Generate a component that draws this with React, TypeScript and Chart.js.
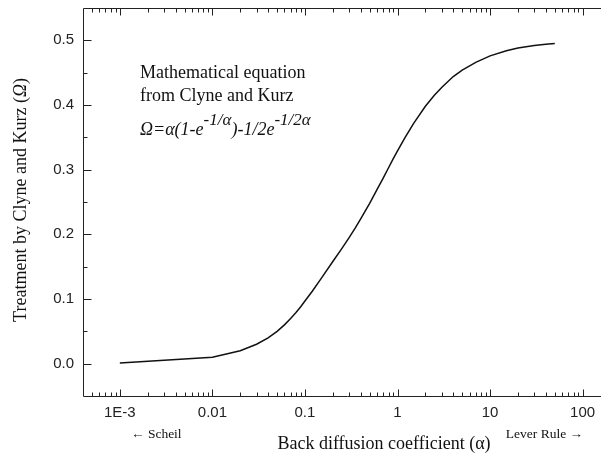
import React, { useEffect, useRef } from "react";
import { Chart, registerables } from "chart.js";

Chart.register(...registerables);

// Back diffusion coefficient α (x) and Clyne–Kurz treatment Ω (y)
const alphaValues = [
  0.001, 0.01, 0.02, 0.03, 0.04, 0.05, 0.06, 0.07, 0.08, 0.09, 0.1, 0.12, 0.15,
  0.2, 0.25, 0.3, 0.35, 0.4, 0.5, 0.6, 0.7, 0.8, 0.9, 1, 1.2, 1.5, 2, 2.5, 3, 4,
  5, 7, 10, 15, 20, 30, 40, 50,
];
const omegaValues = [
  0.001, 0.01, 0.02, 0.03, 0.04, 0.05, 0.06, 0.07, 0.079, 0.088, 0.097, 0.112,
  0.132, 0.158, 0.178, 0.195, 0.21, 0.224, 0.248, 0.269, 0.287, 0.303, 0.317,
  0.329, 0.349, 0.372, 0.398, 0.415, 0.427, 0.444, 0.454, 0.466, 0.476, 0.484,
  0.488, 0.492, 0.494, 0.495,
];

const xDecades = [0.001, 0.01, 0.1, 1, 10, 100];
const xDecadeLabels = ["1E-3", "0.01", "0.1", "1", "10", "100"];

const X_MIN = 4e-4;
const X_MAX = 200;
const Y_MIN = -0.05;
const Y_MAX = 0.55;

const SERIF = "'Liberation Serif', 'Times New Roman', serif";
const SANS = "'Liberation Sans', Arial, sans-serif";
const INK = "#222";

type Run = { text: string; font: string; dy?: number };

function drawRuns(ctx: CanvasRenderingContext2D, runs: Run[], x: number, y: number) {
  let cx = x;
  for (const r of runs) {
    ctx.font = r.font;
    ctx.fillText(r.text, cx, y + (r.dy || 0));
    cx += ctx.measureText(r.text).width;
  }
  return cx - x;
}

function measureRuns(ctx: CanvasRenderingContext2D, runs: Run[]) {
  let w = 0;
  for (const r of runs) {
    ctx.font = r.font;
    w += ctx.measureText(r.text).width;
  }
  return w;
}

const framePlugin = {
  id: "frameAndNotes",
  afterDraw(chart: any) {
    const { ctx, chartArea } = chart;
    const { left, right, top, bottom } = chartArea;
    const xs = chart.scales.x;
    const ys = chart.scales.y;
    ctx.save();
    ctx.strokeStyle = INK;
    ctx.lineWidth = 1;

    // frame
    const L = Math.round(left) + 0.5;
    const T = Math.round(top) + 0.5;
    const B = Math.round(bottom) + 0.5;
    const R = Math.round(right) + 0.5;
    ctx.beginPath();
    ctx.moveTo(L, T);
    ctx.lineTo(L, B);
    ctx.moveTo(L, T);
    ctx.lineTo(R, T);
    ctx.moveTo(L, B);
    ctx.lineTo(R, B);
    ctx.moveTo(R, T);
    ctx.lineTo(R, B);
    ctx.stroke();

    // inward ticks on x (bottom and top)
    ctx.beginPath();
    for (const t of xs.ticks) {
      const v = t.value;
      const e = Math.log10(v);
      const major = Math.abs(e - Math.round(e)) < 1e-9;
      const len = major ? 7 : 4;
      const px = Math.round(xs.getPixelForValue(v)) + 0.5;
      if (px <= L + 0.1) continue;
      ctx.moveTo(px, B);
      ctx.lineTo(px, B - len);
      ctx.moveTo(px, T);
      ctx.lineTo(px, T + len);
    }
    // inward ticks on y (left)
    for (const t of ys.ticks) {
      const v = t.value;
      const major = Math.abs(v * 10 - Math.round(v * 10)) < 1e-6;
      const len = major ? 8 : 4;
      const py = Math.round(ys.getPixelForValue(v)) + 0.5;
      if (py <= T + 0.1 || py >= B - 0.1) continue;
      ctx.moveTo(L, py);
      ctx.lineTo(L + len, py);
    }
    ctx.stroke();

    ctx.fillStyle = "#111";
    ctx.textBaseline = "alphabetic";
    ctx.textAlign = "left";

    // equation note
    ctx.font = `18px ${SERIF}`;
    ctx.fillText("Mathematical equation", 140, 78);
    ctx.fillText("from Clyne and Kurz", 140, 101);
    const it = `italic 18px ${SERIF}`;
    const itSup = `italic 17px ${SERIF}`;
    drawRuns(
      ctx,
      [
        { text: "Ω=α(1-e", font: it },
        { text: "-1/α", font: itSup, dy: -10 },
        { text: ")-1/2e", font: it },
        { text: "-1/2α", font: itSup, dy: -10 },
      ],
      140,
      135
    );

    // bottom annotations
    ctx.font = `13.5px ${SERIF}`;
    ctx.fillText("← Scheil", 131, 438);
    ctx.textAlign = "right";
    ctx.fillText("Lever Rule →", 583, 438);
    ctx.textAlign = "left";

    // x title
    const xRuns: Run[] = [{ text: "Back diffusion coefficient (α)", font: `18px ${SERIF}` }];
    const xw = measureRuns(ctx, xRuns);
    drawRuns(ctx, xRuns, 384 - xw / 2, 449);

    // y title
    const yRuns: Run[] = [
      { text: "Treatment by Clyne and Kurz (", font: `18px ${SERIF}` },
      { text: "Ω", font: `italic 18px ${SERIF}` },
      { text: ")", font: `18px ${SERIF}` },
    ];
    const yw = measureRuns(ctx, yRuns);
    ctx.translate(26, 200);
    ctx.rotate(-Math.PI / 2);
    drawRuns(ctx, yRuns, -yw / 2, 0);

    ctx.restore();
  },
};

export default function App() {
  const canvasRef = useRef<HTMLCanvasElement | null>(null);

  useEffect(() => {
    const canvas = canvasRef.current;
    if (!canvas) return;
    const chart = new Chart(canvas, {
      type: "line",
      data: {
        datasets: [
          {
            data: alphaValues.map((a, i) => ({ x: a, y: omegaValues[i] })),
            borderColor: "#111",
            borderWidth: 1.5,
            pointRadius: 0,
            tension: 0,
            fill: false,
          },
        ],
      },
      options: {
        responsive: false,
        animation: false,
        events: [],
        layout: { padding: { left: 0, top: 8, right: 29.5, bottom: 0 } },
        plugins: {
          legend: { display: false },
          tooltip: { enabled: false },
          title: { display: false },
        },
        scales: {
          x: {
            type: "logarithmic",
            min: X_MIN,
            max: X_MAX,
            grid: { display: false, drawTicks: false },
            border: { display: false },
            afterFit: (s: any) => {
              s.height = 57;
              s.paddingLeft = 0;
              s.paddingRight = 0;
            },
            afterBuildTicks: (s: any) => {
              const ticks: { value: number }[] = [];
              for (let e = -4; e <= 2; e++) {
                const d = Math.pow(10, e);
                for (let m = 1; m <= 9; m++) {
                  const v = parseFloat((m * d).toPrecision(6));
                  if (v >= X_MIN && v <= X_MAX) ticks.push({ value: v });
                }
              }
              s.ticks = ticks;
            },
            ticks: {
              autoSkip: false,
              maxRotation: 0,
              padding: 8,
              color: INK,
              font: { family: SANS, size: 15 },
              callback: (v: any) => {
                const idx = xDecades.findIndex((d) => Math.abs(d - v) / d < 1e-6);
                return idx >= 0 ? xDecadeLabels[idx] : "";
              },
            },
          },
          y: {
            type: "linear",
            min: Y_MIN,
            max: Y_MAX,
            grid: { display: false, drawTicks: false },
            border: { display: false },
            afterFit: (s: any) => {
              s.width = 83;
              s.paddingTop = 0;
              s.paddingBottom = 0;
            },
            ticks: {
              stepSize: 0.05,
              autoSkip: false,
              padding: 9,
              color: INK,
              font: { family: SANS, size: 15 },
              callback: (v: any) => {
                const n = Number(v);
                return Math.abs(n * 10 - Math.round(n * 10)) < 1e-6 ? n.toFixed(1) : "";
              },
            },
          },
        },
      },
      plugins: [framePlugin],
    } as any);
    return () => chart.destroy();
  }, []);

  return (
    <div
      style={{
        position: "fixed",
        left: 0,
        top: 0,
        width: 601,
        height: 453,
        overflow: "hidden",
        background: "#fff",
      }}
    >
      <canvas ref={canvasRef} width={640} height={453} style={{ display: "block" }} />
    </div>
  );
}
